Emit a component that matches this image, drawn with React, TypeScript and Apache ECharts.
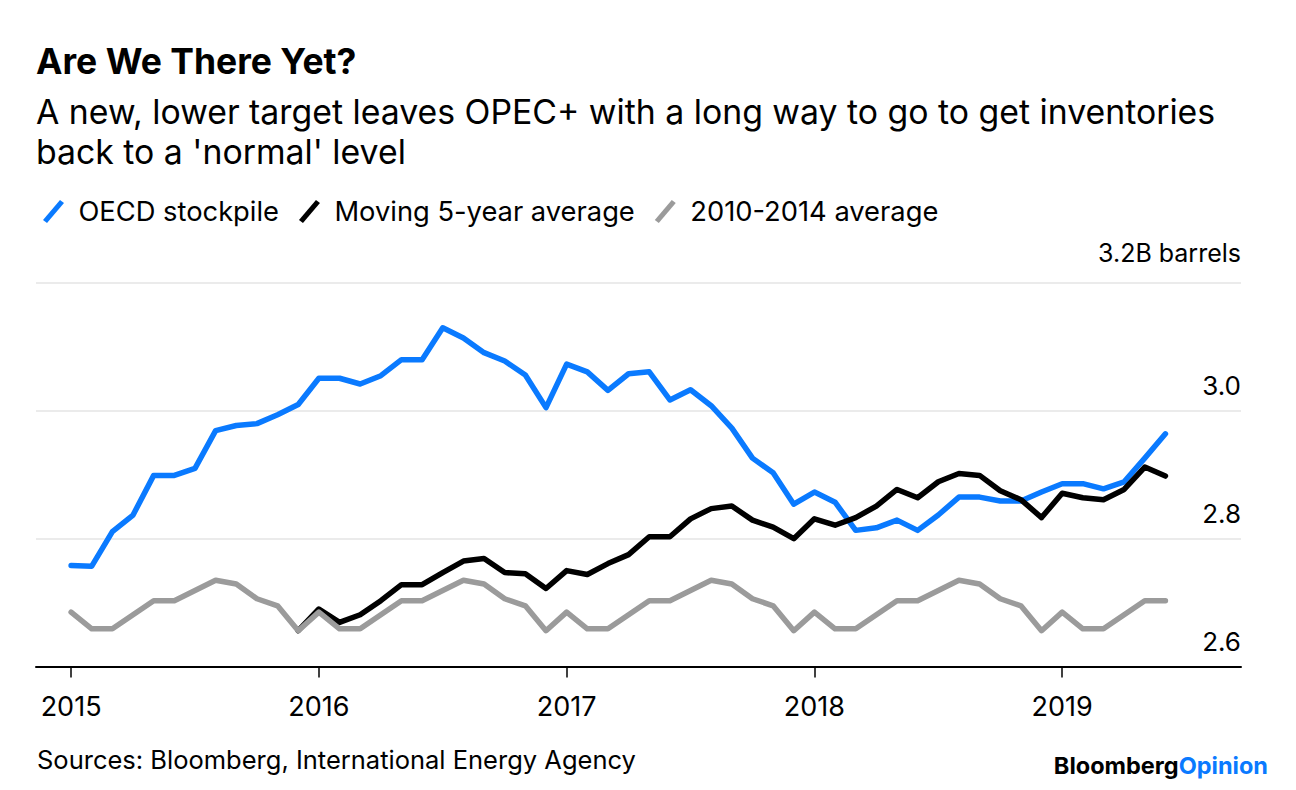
import React, { useEffect, useRef } from "react";
import * as echarts from "echarts";

// Month index 0 = Jan 2015 ... 53 = Jun 2019
const monthLabels: string[] = [
  "2015-01","2015-02","2015-03","2015-04","2015-05","2015-06","2015-07","2015-08","2015-09","2015-10","2015-11","2015-12",
  "2016-01","2016-02","2016-03","2016-04","2016-05","2016-06","2016-07","2016-08","2016-09","2016-10","2016-11","2016-12",
  "2017-01","2017-02","2017-03","2017-04","2017-05","2017-06","2017-07","2017-08","2017-09","2017-10","2017-11","2017-12",
  "2018-01","2018-02","2018-03","2018-04","2018-05","2018-06","2018-07","2018-08","2018-09","2018-10","2018-11","2018-12",
  "2019-01","2019-02","2019-03","2019-04","2019-05","2019-06",
];

const oecdStockpile: number[] = [
  2.758, 2.757, 2.811, 2.837, 2.899, 2.899, 2.910, 2.969, 2.977, 2.980, 2.994, 3.010,
  3.051, 3.051, 3.042, 3.055, 3.080, 3.080, 3.130, 3.114, 3.091, 3.078, 3.056, 3.005,
  3.073, 3.061, 3.032, 3.058, 3.061, 3.017, 3.033, 3.008, 2.973, 2.926, 2.903, 2.854,
  2.873, 2.857, 2.813, 2.817, 2.829, 2.813, 2.837, 2.865, 2.865, 2.859, 2.859, 2.873,
  2.886, 2.886, 2.878, 2.889, 2.926, 2.964,
];

const moving5yr: (number | null)[] = [
  null, null, null, null, null, null, null, null, null, null, null, 2.656,
  2.690, 2.669, 2.681, 2.703, 2.728, 2.728, 2.747, 2.765, 2.769, 2.747, 2.745, 2.722,
  2.750, 2.744, 2.761, 2.775, 2.803, 2.803, 2.831, 2.847, 2.851, 2.829, 2.818, 2.800,
  2.831, 2.821, 2.833, 2.851, 2.877, 2.864, 2.889, 2.902, 2.899, 2.875, 2.861, 2.833,
  2.871, 2.864, 2.861, 2.877, 2.912, 2.898,
];

const avg2010to2014: number[] = [
  2.685, 2.659, 2.659, 2.681, 2.703, 2.703, 2.719, 2.735, 2.729, 2.706, 2.695, 2.656,
  2.685, 2.659, 2.659, 2.681, 2.703, 2.703, 2.719, 2.735, 2.729, 2.706, 2.695, 2.656,
  2.685, 2.659, 2.659, 2.681, 2.703, 2.703, 2.719, 2.735, 2.729, 2.706, 2.695, 2.656,
  2.685, 2.659, 2.659, 2.681, 2.703, 2.703, 2.719, 2.735, 2.729, 2.706, 2.695, 2.656,
  2.685, 2.659, 2.659, 2.681, 2.703, 2.703,
];

const yearTickMonths: number[] = [0, 12, 24, 36, 48];
const yearTickLabels: string[] = ["2015", "2016", "2017", "2018", "2019"];

const seriesNames = ["OECD stockpile", "Moving 5-year average", "2010-2014 average"];
const seriesColors = ["#0a7aff", "#000000", "#9b9b9b"];

const FONT = "Inter";

export default function App() {
  const ref = useRef<HTMLDivElement>(null);

  useEffect(() => {
    document.body.style.margin = "0";
    if (!ref.current) return;
    const chart = echarts.init(ref.current, undefined, { renderer: "svg" });

    const toPairs = (vals: (number | null)[]) =>
      monthLabels.map((_, i) => [i, vals[i]]);

    const slash = "path://M0,20 L17,0 L21,3 L4,23 Z";

    chart.setOption({
      animation: false,
      backgroundColor: "#ffffff",
      textStyle: { fontFamily: FONT },
      grid: { left: 36, right: 55, top: 283, bottom: 123.5, containLabel: false },
      legend: {
        left: 38,
        top: 193,
        icon: slash,
        itemWidth: 24,
        itemHeight: 23,
        itemGap: 20,
        data: seriesNames,
        textStyle: { fontFamily: FONT, fontSize: 27.3, color: "#000", padding: [0, 0, 0, 8] },
      },
      xAxis: {
        type: "value",
        min: -1.7,
        max: 56.66,
        axisLine: { show: true, lineStyle: { color: "#000", width: 2 } },
        axisTick: {
          show: true,
          customValues: yearTickMonths,
          length: 11,
          lineStyle: { color: "#000", width: 1.5 },
        },
        axisLabel: {
          customValues: yearTickMonths,
          formatter: (v: number) => yearTickLabels[yearTickMonths.indexOf(Math.round(v))] ?? "",
          fontFamily: FONT,
          fontSize: 27,
          color: "#000",
          margin: 40,
          verticalAlign: "middle",
        },
        splitLine: { show: false },
      },
      yAxis: {
        type: "value",
        position: "right",
        min: 2.6,
        max: 3.2,
        interval: 0.2,
        axisLine: { show: false },
        axisTick: { show: false },
        splitLine: { show: true, lineStyle: { color: "#ebebeb", width: 2 } },
        axisLabel: {
          inside: true,
          margin: 0,
          verticalAlign: "middle",
          formatter: (v: number) =>
            Math.abs(v - 3.2) < 1e-6 ? "{t|3.2B barrels}" : "{n|" + v.toFixed(1) + "}",
          rich: {
            n: { fontFamily: FONT, fontSize: 26, color: "#000", padding: [0, 0, 50, 0] },
            t: { fontFamily: FONT, fontSize: 25, color: "#000", padding: [0, 0, 61, 0] },
          },
        },
      },
      series: [
        {
          name: seriesNames[0],
          type: "line",
          data: toPairs(oecdStockpile),
          showSymbol: false,
          symbol: "none",
          lineStyle: { color: seriesColors[0], width: 5.5, cap: "round", join: "round" },
          itemStyle: { color: seriesColors[0] },
          z: 3,
        },
        {
          name: seriesNames[1],
          type: "line",
          data: toPairs(moving5yr),
          showSymbol: false,
          symbol: "none",
          lineStyle: { color: seriesColors[1], width: 5.5, cap: "round", join: "round" },
          itemStyle: { color: seriesColors[1] },
          z: 4,
        },
        {
          name: seriesNames[2],
          type: "line",
          data: toPairs(avg2010to2014),
          showSymbol: false,
          symbol: "none",
          lineStyle: { color: seriesColors[2], width: 5.5, cap: "round", join: "round" },
          itemStyle: { color: seriesColors[2] },
          z: 5,
        },
      ],
      graphic: [
        {
          type: "text",
          x: 36,
          y: 61.5,
          style: {
            text: "Are We There Yet?",
            fontFamily: FONT,
            fontSize: 35.5,
            fontWeight: "bold",
            fill: "#000",
            verticalAlign: "middle",
          },
        },
        {
          type: "text",
          x: 36,
          y: 111.7,
          style: {
            text: "A new, lower target leaves OPEC+ with a long way to go to get inventories",
            fontFamily: FONT,
            fontSize: 33.8,
            fill: "#000",
            verticalAlign: "middle",
          },
        },
        {
          type: "text",
          x: 36,
          y: 151.5,
          style: {
            text: "back to a 'normal' level",
            fontFamily: FONT,
            fontSize: 33.8,
            fill: "#000",
            verticalAlign: "middle",
          },
        },
        {
          type: "text",
          x: 37,
          y: 759.5,
          style: {
            text: "Sources: Bloomberg, International Energy Agency",
            fontFamily: FONT,
            fontSize: 25.5,
            fill: "#000",
            verticalAlign: "middle",
          },
        },
        {
          type: "text",
          x: 1268,
          y: 765,
          style: {
            text: "{a|Bloomberg}{b|Opinion}",
            textAlign: "right",
            verticalAlign: "middle",
            rich: {
              a: { fontFamily: FONT, fontSize: 23.5, fontWeight: "bold", fill: "#000", color: "#000" },
              b: { fontFamily: FONT, fontSize: 23.5, fontWeight: "bold", fill: "#0a7aff", color: "#0a7aff" },
            },
          },
        },
      ],
    });

    return () => chart.dispose();
  }, []);

  return <div ref={ref} style={{ width: 1296, height: 790 }} />;
}
